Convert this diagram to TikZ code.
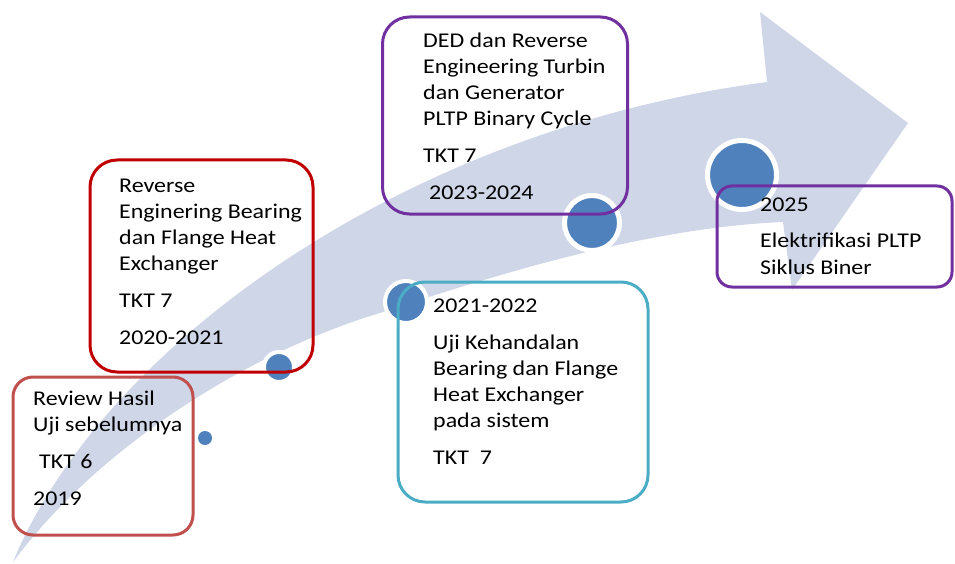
\documentclass[tikz,border=0pt]{standalone}
\usepackage{fontspec}
\setmainfont{Carlito}[FakeStretch=1.14]
\definecolor{bandfill}{RGB}{207,214,231}
\definecolor{dotblue}{RGB}{79,129,189}
\definecolor{reviewred}{RGB}{192,80,77}
\definecolor{darkred}{RGB}{192,0,0}
\definecolor{violet}{RGB}{112,48,160}
\definecolor{teal}{RGB}{75,172,198}
\begin{document}
\begin{tikzpicture}[x=1pt,y=-1pt,
  boxframe/.style={draw=#1, line width=3pt, inner sep=0pt},
  txt/.style={anchor=north west, inner sep=0pt, align=left,
    font=\fontsize{21}{26}\selectfont},
  milestone/.style={circle, fill=dotblue, draw=white, inner sep=0pt},
]
\useasboundingbox (0,0) rectangle (955,564);

% curved timeline arrow
\fill[bandfill] (13,562) .. controls (100,350) and (400,130) .. (767,82)
  -- (760,12) -- (908,123) -- (792,290) -- (783,222)
  .. controls (640,228) and (480,280) .. (380,313)
  .. controls (250,352) and (100,445) .. (13,562) -- cycle;

% milestones along the arrow
\node[milestone, draw=none, minimum size=14pt] (c1) at (205,438) {};
\node[milestone, line width=4pt, minimum size=30pt] (c2) at (279,367) {};
\node[milestone, line width=4pt, minimum size=42pt] (c3) at (406,302) {};
\node[milestone, line width=5pt, minimum size=55pt] (c4) at (592,223) {};
\node[milestone, line width=5pt, minimum size=69pt] (c5) at (742,175) {};

% boxes
\node[boxframe=reviewred, rounded corners=20pt, minimum width=180pt, minimum height=158pt] (b1) at (103,456) {};
\node[boxframe=darkred, rounded corners=27pt, minimum width=223pt, minimum height=212pt] (b2) at (201.5,266) {};
\node[boxframe=violet, rounded corners=27pt, minimum width=245pt, minimum height=197pt] (b3) at (505,115.5) {};
\node[boxframe=teal, rounded corners=27pt, minimum width=250pt, minimum height=220pt] (b4) at (523,392) {};
\node[boxframe=violet, rounded corners=15pt, minimum width=235pt, minimum height=101pt] (b5) at (834.5,236.5) {};

% texts (first baseline = top + 17)
\node[txt] (t1) at (33,388) {\rule{0pt}{17pt}Review Hasil\\Uji sebelumnya\\[11pt]\hspace{6pt}TKT 6\\[11pt]2019};
\node[txt] (t2) at (119,175) {\rule{0pt}{17pt}Reverse\\Enginering Bearing\\dan Flange Heat\\Exchanger\\[11pt]TKT 7\\[11pt]2020-2021};
\node[txt] (t3) at (423,30) {\rule{0pt}{17pt}DED dan Reverse\\Engineering Turbin\\dan Generator\\PLTP Binary Cycle\\[11pt]TKT 7\\[11pt]\hspace{6pt}2023-2024};
\node[txt] (t4) at (433,295) {\rule{0pt}{17pt}2021-2022\\[11pt]Uji Kehandalan\\Bearing dan Flange\\Heat Exchanger\\pada sistem\\[11pt]TKT~~7};
\node[txt] (t5) at (760,194) {\rule{0pt}{17pt}2025\\[10pt]Elektrifikasi PLTP\\[1pt]Siklus Biner};
\end{tikzpicture}
\end{document}
